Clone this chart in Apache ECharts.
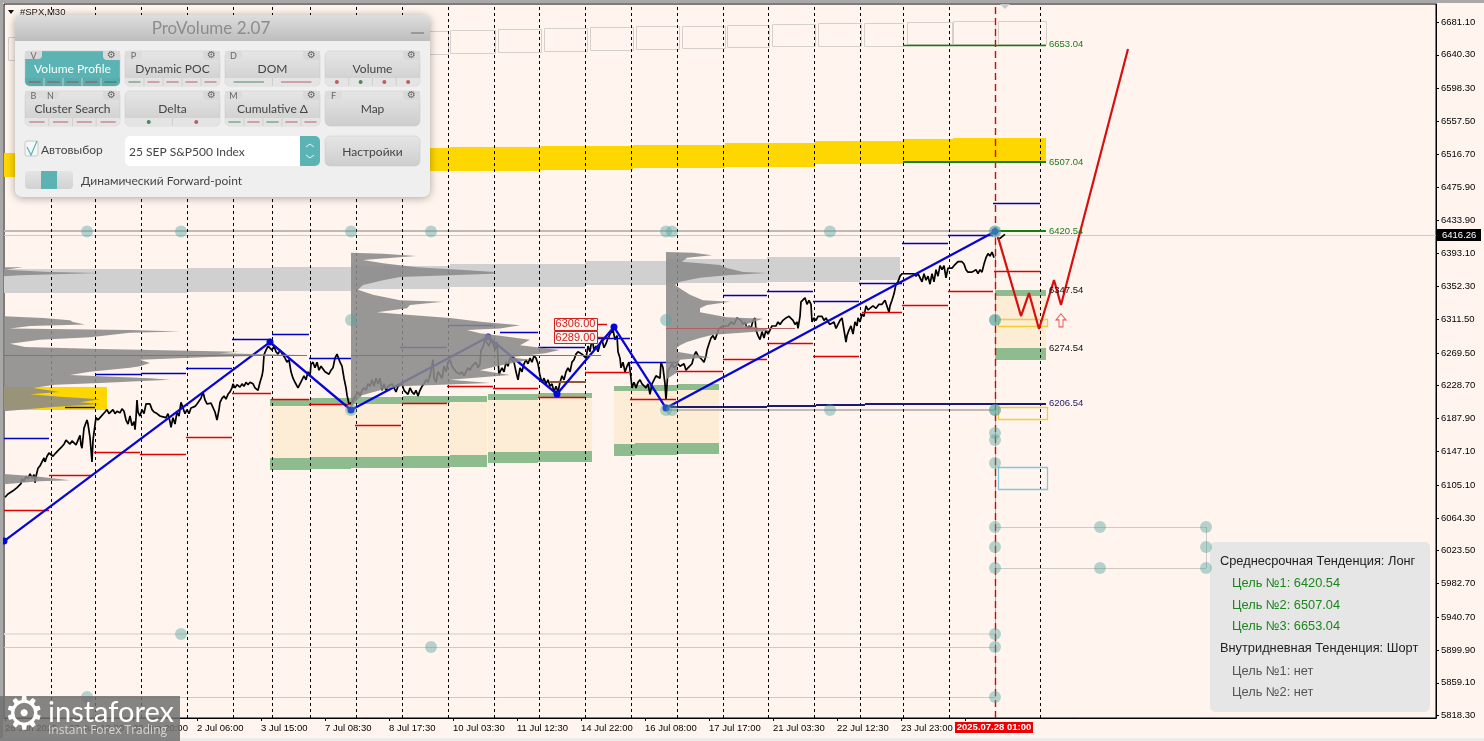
<!DOCTYPE html>
<html><head><meta charset="utf-8">
<style>html,body{margin:0;padding:0;background:#fff5ee;overflow:hidden}#c{width:1484px;height:741px}</style>
<script src="https://cdn.jsdelivr.net/npm/echarts@6/dist/echarts.min.js"></script>
</head><body><div id="c"></div>
<script>
// ---- data (x = bar number, y = index price) ----
const barMin = 4, barMax = 1436, priceMin = 5815.4, priceMax = 6703.5;
const priceTicks = [6681.10,6640.30,6598.30,6557.50,6516.70,6475.90,6433.90,6393.10,6352.30,6311.50,6269.50,6228.70,6187.90,6147.10,6105.10,6064.30,6023.50,5982.70,5940.70,5899.90,5859.10,5818.30];
const timeTicks = [5,69,133,197,261,325,389,453,517,581,645,709,773,837,901];
const timeLabels = ['26 Jun 2025','27 Jun 10:30','30 Jun 20:00','2 Jul 06:00','3 Jul 15:00','7 Jul 08:30','8 Jul 17:30','10 Jul 03:30','11 Jul 12:30','14 Jul 22:00','16 Jul 08:00','17 Jul 17:00','21 Jul 03:30','22 Jul 12:30','23 Jul 23:00'];
const lastTick = [965];
const daySeparators = [51,95,141,187,233,272,310,356,402,448,494,539,585,631,677,723,768,814,860,903,949,1040];
const nowBar = 995, nowLabel = '2025.07.28 01:00', lastPrice = 6416.26;
const price = [[5,6090],[8,6094],[10,6092],[13,6098],[15,6099],[17,6102],[19,6103],[21,6107],[22,6113],[24,6110],[26,6116],[28,6113],[30,6119],[32,6114],[34,6118],[35,6108],[36,6116],[38,6126],[40,6129],[42,6134],[44,6139],[45,6134],[47,6141],[49,6145],[51,6146],[53,6141],[55,6144],[58,6148],[60,6150],[62,6153],[64,6156],[66,6161],[68,6160],[70,6156],[72,6160],[74,6158],[76,6155],[78,6161],[80,6167],[81,6155],[82,6151],[84,6176],[87,6186],[88,6181],[90,6164],[91,6149],[92,6134],[93,6161],[95,6180],[96,6189],[98,6186],[100,6189],[102,6191],[105,6196],[107,6199],[109,6194],[111,6196],[113,6199],[115,6194],[117,6197],[120,6195],[122,6200],[124,6197],[126,6186],[128,6181],[130,6191],[132,6179],[134,6184],[135,6174],[136,6189],[137,6211],[138,6196],[140,6191],[142,6199],[144,6194],[146,6206],[148,6208],[150,6206],[152,6199],[154,6196],[157,6194],[160,6191],[163,6190],[166,6189],[168,6194],[170,6184],[171,6177],[173,6189],[175,6181],[177,6196],[179,6191],[181,6208],[183,6201],[185,6194],[187,6199],[189,6194],[191,6201],[193,6199],[195,6203],[197,6206],[199,6208],[201,6213],[203,6221],[205,6211],[207,6206],[209,6205],[211,6207],[213,6206],[215,6196],[217,6186],[219,6199],[220,6208],[222,6213],[224,6216],[226,6212],[228,6218],[230,6221],[232,6226],[233,6231],[235,6226],[237,6230],[240,6227],[242,6231],[244,6228],[246,6233],[248,6230],[250,6233],[253,6231],[255,6226],[257,6228],[258,6223],[260,6233],[262,6241],[263,6248],[264,6267],[266,6273],[268,6278],[270,6279],[272,6273],[274,6278],[276,6271],[278,6268],[280,6273],[283,6267],[285,6263],[287,6258],[289,6261],[291,6246],[293,6238],[295,6233],[297,6231],[298,6226],[300,6231],[302,6233],[304,6241],[306,6236],[308,6246],[310,6241],[311,6255],[313,6258],[315,6251],[317,6258],[319,6248],[321,6253],[323,6251],[325,6246],[327,6248],[329,6243],[331,6248],[333,6251],[335,6263],[337,6268],[338,6266],[340,6258],[342,6253],[344,6238],[346,6226],[347,6217],[349,6206],[350,6205],[352,6208],[354,6213],[356,6211],[358,6221],[360,6216],[362,6223],[364,6226],[366,6223],[368,6231],[370,6228],[372,6236],[374,6228],[376,6238],[378,6231],[380,6238],[382,6223],[384,6231],[386,6223],[388,6228],[390,6226],[392,6231],[394,6226],[396,6221],[398,6228],[400,6226],[402,6231],[404,6223],[406,6221],[408,6218],[410,6226],[412,6221],[414,6218],[416,6223],[418,6216],[420,6223],[422,6228],[424,6231],[426,6236],[428,6233],[430,6241],[432,6243],[433,6261],[434,6238],[436,6233],[438,6246],[440,6248],[442,6238],[444,6253],[446,6246],[448,6258],[450,6261],[452,6253],[454,6251],[456,6246],[458,6248],[460,6243],[462,6246],[464,6241],[466,6243],[468,6251],[470,6248],[472,6253],[474,6251],[476,6258],[478,6251],[480,6256],[481,6273],[483,6277],[485,6286],[487,6288],[489,6278],[491,6286],[493,6281],[495,6273],[497,6283],[499,6242],[500,6246],[502,6251],[504,6246],[506,6258],[508,6253],[510,6263],[512,6261],[514,6258],[516,6246],[518,6236],[520,6251],[522,6246],[524,6256],[526,6261],[528,6256],[530,6263],[532,6258],[534,6266],[536,6263],[538,6256],[540,6241],[542,6233],[544,6238],[546,6231],[548,6236],[550,6228],[552,6231],[554,6221],[556,6228],[558,6221],[560,6233],[562,6241],[564,6236],[566,6246],[568,6251],[570,6246],[572,6258],[574,6261],[576,6268],[578,6271],[580,6273],[582,6268],[584,6266],[586,6263],[588,6278],[590,6271],[592,6288],[594,6273],[596,6278],[598,6271],[600,6281],[602,6286],[604,6276],[606,6281],[608,6288],[610,6293],[612,6291],[613,6298],[615,6286],[617,6291],[618,6271],[620,6263],[621,6251],[623,6258],[625,6246],[627,6253],[629,6258],[631,6238],[632,6226],[634,6233],[636,6226],[638,6233],[640,6236],[642,6231],[644,6233],[646,6226],[648,6231],[650,6218],[652,6231],[654,6236],[656,6241],[658,6243],[660,6238],[661,6258],[663,6251],[664,6241],[665,6231],[666,6211],[667,6230],[668,6248],[670,6251],[672,6256],[674,6251],[676,6253],[678,6256],[680,6253],[682,6251],[684,6256],[686,6248],[688,6251],[690,6251],[692,6256],[694,6266],[696,6271],[698,6266],[700,6268],[702,6261],[704,6258],[706,6266],[707,6273],[709,6281],[711,6288],[713,6291],[715,6286],[717,6293],[719,6300],[721,6300],[723,6303],[725,6302],[728,6303],[731,6308],[734,6305],[737,6313],[739,6315],[741,6310],[743,6305],[745,6308],[747,6300],[749,6303],[751,6300],[753,6310],[755,6313],[756,6298],[758,6291],[760,6286],[762,6296],[764,6288],[766,6298],[768,6293],[770,6298],[772,6303],[774,6305],[776,6303],[778,6308],[780,6305],[783,6310],[786,6313],[789,6315],[791,6313],[793,6310],[795,6305],[797,6308],[798,6300],[800,6315],[801,6333],[803,6335],[805,6338],[807,6330],[809,6335],[811,6330],[812,6308],[814,6313],[816,6310],[818,6315],[820,6313],[822,6315],[824,6310],[826,6313],[828,6308],[830,6305],[832,6303],[834,6308],[836,6300],[838,6305],[840,6310],[842,6313],[844,6298],[846,6283],[847,6291],[849,6298],[851,6303],[853,6293],[855,6308],[857,6303],[858,6313],[860,6308],[862,6318],[864,6315],[866,6328],[868,6323],[870,6325],[873,6328],[876,6325],[879,6330],[882,6330],[885,6335],[887,6333],[889,6320],[890,6328],[892,6335],[894,6343],[896,6355],[898,6358],[900,6365],[902,6368],[904,6370],[906,6368],[908,6370],[910,6368],[912,6370],[914,6368],[916,6365],[918,6368],[920,6363],[922,6358],[924,6368],[926,6360],[928,6365],[930,6355],[932,6368],[934,6358],[936,6373],[938,6365],[940,6378],[942,6373],[944,6378],[946,6363],[948,6375],[950,6373],[952,6375],[954,6378],[956,6380],[958,6383],[960,6385],[962,6383],[964,6380],[966,6373],[968,6370],[970,6368],[972,6370],[974,6370],[976,6373],[978,6368],[980,6373],[982,6370],[984,6380],[986,6388],[988,6393],[990,6390],[992,6395],[994,6388]];
const priceTail = [[997,6412],[1000,6412],[1003,6415],[1005,6417]];
const zigzag = [[4,6035.5],[270,6283],[351,6198.5],[488,6289.3],[557,6218.4],[614,6301.7],[666,6200.9],[995,6420.54]];
const forecast = [[998,6413.6],[1021,6315.4],[1029,6344],[1039,6299.2],[1054,6360.2],[1061,6329.1],[1128,6647.5]];
const outlineBoxes = [[8,16,6633.8,6662.4],[404,448,6641.3,6669.8],[450,495,6642.5,6671.1],[498,541,6643.8,6672.3],[544,587,6645,6673.6],[590,633,6646.2,6674.8],[636,679,6647.5,6676.1],[682,725,6648.7,6676.1],[727,769,6650,6677.3],[772,815,6651.2,6678.6],[818,861,6651.2,6679.8],[864,903,6651.2,6679.8],[907,952,6653.7,6681.1],[953,995,6653.7,6682.3],[998,1046,6653.7,6682.3]];
const yellowBand = [[4,430,6488.3,6518.1],[430,450,6495.7,6524.3],[450,541,6495.7,6525.6],[541,633,6497,6526.8],[633,725,6499.5,6528.1],[725,815,6500.7,6530.6],[815,903,6504.4,6533],[903,953,6506.9,6535.5],[953,1046,6507.04,6536.8],[4,107,6198.5,6227.1]];
const greyBand = [[4,187,6344,6373.8],[187,273,6345.2,6375.1],[273,351,6346.5,6376.3],[351,450,6349,6377.6],[450,585,6351.4,6380],[585,666,6353.9,6383.8],[666,767,6356.4,6386.3],[767,860,6357.7,6388.8],[860,900,6360.2,6388.8]];
const zones = [[270,310,6212.1,6203.4,6138.8,6123.9],[310,351,6213.4,6204.7,6140,6125.1],[351,403,6214.6,6205.9,6140,6126.4],[403,450,6215.9,6207.2,6141.2,6126.4],[450,487,6215.9,6208.4,6142.5,6127.6],[488,538,6218.4,6210.9,6146.2,6132.5],[538,592,6219.6,6213.4,6147.5,6133.8],[614,635,6228.3,6222.1,6156.2,6141.2],[635,677,6229.6,6222.1,6157.4,6142.5],[677,719,6230.8,6223.3,6157.4,6143.7],[995,1046,6347.54,6340.3,6275.6,6260.7]];
const yellowOutlines = [[998,1047,6302.9,6311.6],[998,1047,6187.3,6202.2]];
const blueOutlines = [[998,1047,6100.3,6127.6]];
const greyLinesThick = [[4,995,6420.54],[666,995,6198.5]];
const greyLinesThin = [[4,1436,6416.26],[4,995,5903.7],[4,995,5841.5],[995,1206,6053],[995,1206,6002]];
const greyLinesPale = [[4,995,5919.8]];
const highLines = [[4,49,6163.6],[65,95,6202.2],[95,141,6243.2],[141,186,6244.5],[186,232,6250.7],[232,271,6286.8],[272,309,6293],[309,351,6263.1],[400,447,6276.8],[448,493,6304.2],[500,538,6295.5],[538,585,6276.8],[585,630,6288],[630,677,6258.2],[723,767,6341.5],[767,813,6346.5],[813,859,6334],[859,902,6356.4],[902,948,6406.2],[948,993,6416.1],[993,1040,6455.9]];
const lowLines = [[4,49,6074.1],[49,92,6117.6],[94,140,6146.2],[140,186,6143.7],[186,232,6164.9],[232,271,6219.6],[271,309,6212.1],[309,351,6205.9],[355,401,6179.8],[402,447,6207.2],[447,493,6228.3],[493,538,6225.8],[538,585,6214.6],[585,629,6245.7],[630,676,6212.1],[676,723,6247],[723,767,6261.9],[767,813,6281.8],[813,859,6265.6],[862,902,6320.4],[902,948,6329.1],[948,993,6346.5],[994,1040,6371.3],[597,607,6306],[597,610,6289]];
const pocLines = [[4,307,6267],[351,601,6267],[666,795,6300]];
const brownLines = [[550,586,6233.3]];
const navyLines = [[670,767,6202.2],[767,816,6203],[816,865,6204.7],[865,955,6205.5],[955,1046,6206.54]];
const greenThin = [[903,1046,6653.04]];
const greenThick = [[903,1046,6507.04],[995,1046,6420.54]];
const targetLevels = [6653.04,6507.04,6420.54,6347.54,6274.54,6206.54];
const priceBoxes = [6306.00,6289.00];
const nodes = [[87,6420.54],[181,6420.54],[351,6420.54],[431,6420.54],[666,6420.54],[672,6420.54],[830,6420.54],[995,6420.54],[995,6420.54],[351,6310.4],[666,6310.4],[995,6310.4],[995,6310.4],[351,6198.5],[666,6198.5],[672,6198.5],[830,6198.5],[995,6198.5],[995,6198.5],[995,6169.9],[995,6161.2],[995,6132.5],[995,6053],[995,6028.1],[995,6002],[995,5919.8],[995,5903.7],[995,5841.5],[1100,6053],[1100,6002],[1206,6053],[1206,6028.1],[1206,6002],[181,5919.8],[431,5903.7],[87,5841.5]];
const profileA = [[6376,23],[6373,5],[6370,50],[6369,100],[6366,20],[6365,4],[6315,4],[6313,43],[6310,70],[6308,73],[6305,85],[6303,30],[6300,10],[6298,130],[6296,180],[6294.5,130],[6289,90],[6286,40],[6281,10],[6277,25],[6274.5,100],[6271,240],[6269,220],[6267,300],[6264.5,210],[6261,140],[6257,150],[6253,140],[6251,130],[6246,90],[6242,70],[6238,150],[6236,170],[6232,100],[6230,55],[6226,33],[6221,60],[6218,30],[6215,60],[6212,100],[6208,80],[6206,100],[6202,50],[6197,4]];
const profileA2 = [[6119,4],[6116,35],[6111,70],[6110,40],[6106,4]];
const profileB = [[6394,351],[6393,383],[6390,416],[6385,363],[6381,383],[6376,417],[6373,460],[6370,495],[6368,493],[6364,400],[6360,383],[6354,363],[6348,358],[6342,373],[6335,400],[6333,443],[6329,410],[6325,407],[6320,377],[6317,407],[6313,450],[6308,483],[6304,520],[6300,500],[6298,467],[6294,480],[6291,500],[6286,530],[6279,520],[6273,560],[6269,545],[6264,510],[6261,530],[6254,500],[6248,480],[6242,510],[6236,450],[6232,490],[6228,400],[6223,380],[6217,362],[6211,357],[6201,351]];
const profileC = [[6395,666],[6394,693],[6391,712],[6388,687],[6383,682],[6381,700],[6379,720],[6375,727],[6370,743],[6369,767],[6366,727],[6363,700],[6358,680],[6354,675],[6348,682],[6342,690],[6335,703],[6333,730],[6329,707],[6325,700],[6320,700],[6314,727],[6312,763],[6308,753],[6304,743],[6300,763],[6297,770],[6292,713],[6288,700],[6283,687],[6279,680],[6276,677],[6271,677],[6264,710],[6261,680],[6252,677],[6245,677],[6238,668],[6236,666]];

// ---- helpers ----
const crisp=(v,w)=>Math.round(v)+(Math.round(w)%2?0.5:0);
function rects(name,data,style,z){return {type:'custom',name,z,silent:true,data,encode:{x:[0,1],y:[2,3]},renderItem:(p,api)=>{const a=api.coord([api.value(0),api.value(3)]),b=api.coord([api.value(1),api.value(2)]);
 const o=style.fill==='none'?0.5:0,x=Math.round(a[0])+o,y=Math.round(a[1])+o,x2=Math.round(b[0])+o,y2=Math.round(b[1])+o;
 return {type:'rect',shape:{x,y,width:x2-x,height:y2-y},style};}};}
function hlines(name,data,stroke,lineWidth,z){return {type:'custom',name,z,silent:true,data,encode:{x:[0,1],y:2},renderItem:(p,api)=>{const a=api.coord([api.value(0),api.value(2)]),b=api.coord([api.value(1),api.value(2)]),y=crisp(a[1],lineWidth);return {type:'line',shape:{x1:a[0],y1:y,x2:b[0],y2:y},style:{stroke,lineWidth}};}};}
function vlines(name,data,y0,y1,style,z){return {type:'custom',name,z,silent:true,data:data.map(v=>[v]),encode:{x:0},renderItem:(p,api)=>{const a=api.coord([api.value(0),y0]),b=api.coord([api.value(0),y1]),x=crisp(a[0],1);return {type:'line',shape:{x1:x,y1:a[1],x2:x,y2:b[1]},style};}};}
function profile(name,rows,base,z){return {type:'custom',name,z,silent:true,data:[[base,rows[0][0]]],encode:{x:0,y:1},renderItem:(p,api)=>{const pts=[api.coord([base,rows[0][0]])];rows.forEach(r=>pts.push(api.coord([r[1],r[0]])));pts.push(api.coord([base,rows[rows.length-1][0]]));return {type:'polygon',shape:{points:pts},style:{fill:'rgba(138,138,138,0.88)'}};}};}
const axisFont='"Liberation Sans",Arial,sans-serif';
const targetColors=['#1c7a1c','#1c7a1c','#1c7a1c','#111','#111','#22226e'];
const zonesTop=zones.map(z=>[z[0],z[1],z[3],z[2]]),zonesMid=zones.map(z=>[z[0],z[1],z[4],z[3]]),zonesBot=zones.map(z=>[z[0],z[1],z[5],z[4]]);

// ---- panel graphics ----
const teal='#5cb3b3';
const grad=(a,b)=>({type:'linear',x:0,y:0,x2:0,y2:1,colorStops:[{offset:0,color:a},{offset:1,color:b}]});
const g=[];
const UI='Lato,"Open Sans","Noto Sans",sans-serif';
function R(x,y,w,h,fill,r,extra){g.push({type:'rect',z:100,shape:{x,y,width:w,height:h,r:r||0},style:Object.assign({fill},extra||{})});}
function T(text,x,y,font,fill,align){g.push({type:'text',z:101,style:{text,x,y,font,fill,textAlign:align||'left',textVerticalAlign:'middle'}});}
function L(x1,y1,x2,y2,stroke,w){g.push({type:'line',z:101,shape:{x1,y1,x2,y2},style:{stroke,lineWidth:w||1}});}
function D(x,y,fill){g.push({type:'circle',z:101,shape:{cx:x,cy:y,r:2},style:{fill}});}
R(0,0,1484,3,'#a8a8a8');R(0,0,3,741,'#a8a8a8');R(0,738,1484,3,'#ececec');
g.push({type:'polygon',z:100,shape:{points:[[1000,4],[1010,4],[1005,9]]},style:{fill:'#c8c8c8'}});
g.push({type:'polygon',z:100,shape:{points:[[8,10],[14,10],[11,14]]},style:{fill:'#111'}});
T('#SPX,M30',20,12,'9.5px '+axisFont,'#222');
R(15,15,415,182,'#efefef',7,{shadowBlur:8,shadowColor:'rgba(0,0,0,0.35)',shadowOffsetY:1});
g.push({type:'rect',z:100,shape:{x:15,y:15,width:415,height:26,r:[7,7,0,0]},style:{fill:grad('#dedede','#bdbdbd')}});
T('ProVolume 2.07',211,29,'17px '+UI,'#8c8c8c','center');
L(411,33,424,33,'#999',2);
const btns=[
 ['Volume Profile',25,51,['V'],'rrrrg','-',true],['Dynamic POC',125,51,['P'],'grrrr','-'],['DOM',225,51,['D'],'gr','-'],['Volume',325,51,[],'rgrr','o'],
 ['Cluster Search',25,91,['B','N'],'rrrr','-'],['Delta',125,91,[],'gr','o'],['Cumulative Δ',225,91,['M'],'grgrr','-'],['Map',325,91,['F'],'','-']];
const cR='#b86060',cG='#4a8a5a';
btns.forEach(b=>{const [t,x,y,tabs,m,k,on]=b;
 R(x,y,95,35,on?teal:grad('#e6e6e6','#cdcdcd'),5,{stroke:'#c4c4c4',lineWidth:0.5});
 if(m){R(x,y+27,95,8,on?'#59adad':'#e4e4e4',[0,0,5,5]);const n=m.length,w=95/n;
  for(let i=0;i<n;i++){const c=m[i]==='g'?(on?'#2f7a5a':cG):(on?'#a04a4a':cR),cx=x+w*(i+.5);
   if(k==='-')L(cx-w*.32,y+31,cx+w*.32,y+31,c,1);else D(cx,y+31,c);
   if(i)L(x+w*i,y+27,x+w*i,y+35,'#cfcfcf',1);}}
 let tx=x;tabs.forEach(l=>{R(tx,y,17,8,on?'#d9d9d9':'#dcdcdc',[0,0,4,0]);T(l,tx+8.5,y+5,'9px '+UI,'#666','center');tx+=17;});
 R(x+78,y,17,9,'#d9d9d9',[0,0,0,4]);T('⚙',x+86.5,y+4.5,'10px "DejaVu Sans"','#666','center');
 T(t,x+47.5,y+18,'12px '+UI,on?'#f4ffff':'#444','center');
});
R(25,141,13,15,'#f6f6f6',2,{stroke:'#c8c8c8',lineWidth:1});
g.push({type:'polyline',z:101,shape:{points:[[27,147],[31,155],[37,141]]},style:{stroke:teal,fill:'none',lineWidth:1.2}});
T('Автовыбор',41,150,'12px '+UI,'#444');
R(125,136,195,30,'#fff',5);g.push({type:'rect',z:100,shape:{x:300,y:136,width:20,height:30,r:[0,5,5,0]},style:{fill:teal}});
g.push({type:'polyline',z:101,shape:{points:[[306,147],[310,144],[314,147]]},style:{stroke:'#e8f6f6',fill:'none',lineWidth:1}});
g.push({type:'polyline',z:101,shape:{points:[[306,155],[310,158],[314,155]]},style:{stroke:'#e8f6f6',fill:'none',lineWidth:1}});
T('25 SEP S&P500 Index',129,152,'12px '+UI,'#444');
R(325,136,95,30,grad('#e6e6e6','#cdcdcd'),5,{stroke:'#c4c4c4',lineWidth:0.5});
T('Настройки',372.5,152,'12px '+UI,'#444','center');
R(25,171,48,18,grad('#e4e4e4','#d2d2d2'),4);R(41,171,16,18,teal);
T('Динамический Forward-point',81,181,'12px '+UI,'#444');
// info box sits under the chart's nodes
R(1210,542,220,170,'#e6e6e6',5);g[g.length-1].z=9;
const F='12.8px "Liberation Sans",Arial,sans-serif';
T('Среднесрочная Тенденция: Лонг',1220,561,F,'#222');
T('Цель №1: 6420.54',1232,583,F,'#1c861c');T('Цель №2: 6507.04',1232,605,F,'#1c861c');T('Цель №3: 6653.04',1232,626,F,'#1c861c');
T('Внутридневная Тенденция: Шорт',1220,648,F,'#222');
T('Цель №1: нет',1232,671,F,'#555');T('Цель №2: нет',1232,692,F,'#555');
// watermark
R(0,696,180,45,'rgba(112,112,112,0.85)');
T('⚙',24,717,'46px "DejaVu Sans"','#fff','center');
T('instaforex',48,713,'29px Lato,"Open Sans",sans-serif','#fff');
T('Instant Forex Trading',48,731,'12px "Open Sans",sans-serif','#d5d5d5');

// ---- chart ----
const chart=echarts.init(document.getElementById('c'),null,{renderer:'canvas'});
chart.setOption({
 animation:false,backgroundColor:'#fff5ee',tooltip:{show:false},
 grid:{left:4,top:4,right:48,bottom:23,show:true,borderColor:'#000',borderWidth:1,backgroundColor:'#fff5ee'},
 xAxis:{type:'value',min:barMin,max:barMax,splitLine:{show:false},axisLine:{lineStyle:{color:'#000'}},
  axisTick:{length:3,lineStyle:{color:'#000'},customValues:timeTicks.concat(lastTick)},
  axisLabel:{customValues:timeTicks,align:'left',margin:5,color:'#000',fontSize:9.5,fontFamily:axisFont,showMinLabel:true,hideOverlap:false,formatter:v=>timeLabels[timeTicks.indexOf(v)]||''}},
 yAxis:{type:'value',position:'right',min:priceMin,max:priceMax,splitLine:{show:false},axisLine:{show:true,lineStyle:{color:'#000'}},
  axisTick:{show:true,length:3,lineStyle:{color:'#000'},customValues:priceTicks},
  axisLabel:{customValues:priceTicks,margin:5,color:'#000',fontSize:9.5,fontFamily:axisFont,hideOverlap:false,formatter:v=>v.toFixed(2)}},
 series:[
  rects('yellow',yellowBand,{fill:'#ffd700'},1),
  rects('grey',greyBand,{fill:'#d0d0d0'},1),
  rects('zoneMid',zonesMid,{fill:'#fdecd6'},1),
  rects('zoneTop',zonesTop,{fill:'#8fbc8f'},1),
  rects('zoneBot',zonesBot,{fill:'#8fbc8f'},1),
  rects('boxes',outlineBoxes,{fill:'none',stroke:'#d6d0cc',lineWidth:1},2),
  hlines('greyThick',greyLinesThick,'#c0b9b4',2,2),
  hlines('greyThin',greyLinesThin,'#cfc8c3',1,2),
  hlines('greyPale',greyLinesPale,'#e8e0da',2,2),
  vlines('nodeLink',[1206],6053,6002,{stroke:'#cfc8c3',lineWidth:1},2),
  vlines('days',daySeparators,priceMin,priceMax,{stroke:'#000',lineWidth:1,lineDash:[3,3]},3),
  vlines('nowGrey',[nowBar],lastPrice,5841.5,{stroke:'#aaa',lineWidth:1},3),
  vlines('now',[nowBar],priceMin,priceMax,{stroke:'#e00000',lineWidth:1.4,lineDash:[7,4]},3),
  rects('yo',yellowOutlines,{fill:'none',stroke:'#f0d030',lineWidth:1.3},3),
  rects('bo',blueOutlines,{fill:'none',stroke:'#80c8dc',lineWidth:1.3},3),
  {type:'line',name:'price',z:4,data:price,showSymbol:false,silent:true,lineStyle:{color:'#000',width:1.7}},
  {type:'line',name:'priceTail',z:7,data:priceTail,showSymbol:false,silent:true,lineStyle:{color:'#000',width:1.7}},
  hlines('high',highLines,'#0000c0',1.4,5),
  hlines('low',lowLines,'#e00000',1.4,5),
  hlines('poc',pocLines,'#b06060',1,9),
  hlines('brown',brownLines,'#8b5a3c',2,5),
  hlines('navy',navyLines,'#1a1a70',2,5),
  hlines('g1',greenThin,'#0c800c',1.4,5),
  hlines('g2',greenThick,'#118011',2,5),
  {type:'line',name:'zigzag',z:6,data:zigzag,symbol:'circle',symbolSize:7,silent:true,itemStyle:{color:'#0606d8'},lineStyle:{color:'#0606d8',width:2.3}},
  {type:'line',name:'forecast',z:7,data:forecast,showSymbol:false,silent:true,lineStyle:{color:'#d80f0f',width:2.2}},
  profile('profileA',profileA,4,8),profile('profileA2',profileA2,4,8),profile('profileB',profileB,351,8),profile('profileC',profileC,666,8),
  {type:'scatter',name:'nodes',z:10,data:nodes,symbolSize:12,silent:true,itemStyle:{color:'rgba(85,165,160,0.55)'}},
  {type:'scatter',name:'arrow',z:10,data:[[1061,6310]],silent:true,symbol:'path://M5 0 L10 6 L7 6 L7 13 L3 13 L3 6 L0 6 Z',symbolSize:[10,13],itemStyle:{color:'#fff5ee',borderColor:'#e03030',borderWidth:1}},
  {type:'custom',name:'targets',z:11,silent:true,data:targetLevels.map((v,i)=>[1049,v,i]),encode:{x:0,y:1},renderItem:(p,api)=>{const c=api.coord([api.value(0),api.value(1)]),i=api.value(2);return {type:'text',style:{text:targetLevels[i].toFixed(2),x:c[0],y:c[1],font:'9.5px '+axisFont,fill:targetColors[i],textVerticalAlign:'middle'}};}},
  {type:'custom',name:'priceBoxes',z:11,silent:true,data:priceBoxes.map(v=>[554,v]),encode:{x:0,y:1},renderItem:(p,api)=>{const c=api.coord([api.value(0),api.value(1)]);return {type:'group',children:[{type:'rect',shape:{x:c[0]+.5,y:Math.round(c[1])-5.5,width:43,height:12},style:{fill:'#fff5ee',stroke:'#d02020',lineWidth:1}},{type:'text',style:{text:api.value(1).toFixed(2),x:c[0]+21.5,y:c[1]+.5,font:'11px '+axisFont,fill:'#d02020',textAlign:'center',textVerticalAlign:'middle'}}]};}},
  {type:'custom',name:'lastPrice',z:11,silent:true,data:[[barMax,lastPrice]],encode:{x:0,y:1},renderItem:(p,api)=>{const c=api.coord([api.value(0),api.value(1)]);return {type:'group',children:[{type:'rect',shape:{x:c[0]+1,y:c[1]-6,width:44,height:12},style:{fill:'#000'}},{type:'text',style:{text:api.value(1).toFixed(2),x:c[0]+6,y:c[1],font:'9.5px '+axisFont,fill:'#fff',textVerticalAlign:'middle'}}]};}},
  {type:'custom',name:'nowLabel',z:11,silent:true,data:[[nowBar,priceMin]],encode:{x:0,y:1},renderItem:(p,api)=>{const c=api.coord([api.value(0),api.value(1)]);return {type:'group',children:[{type:'rect',shape:{x:c[0]-40,y:c[1]+4,width:78,height:11},style:{fill:'#ee0000'}},{type:'text',style:{text:nowLabel,x:c[0]-1,y:c[1]+9.5,font:'bold 9.5px '+axisFont,fill:'#fff',textAlign:'center',textVerticalAlign:'middle'}}]};}}
 ],
 graphic:g
});
</script></body></html>
